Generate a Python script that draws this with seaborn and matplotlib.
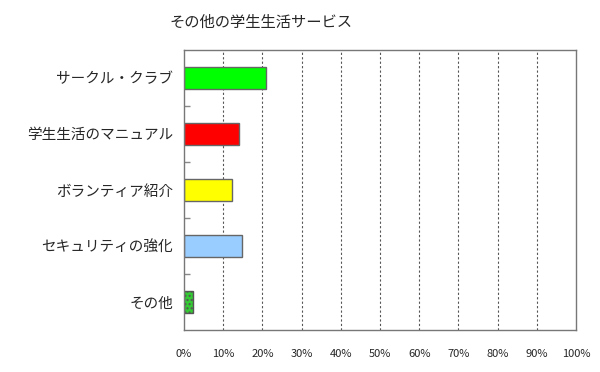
import matplotlib
matplotlib.use("Agg")
import matplotlib.pyplot as plt
import seaborn as sns
import pandas as pd
import numpy as np

# データ
categories = ["サークル・クラブ", "学生生活のマニュアル", "ボランティア紹介", "セキュリティの強化", "その他"]
values = [20.8, 14.1, 12.2, 14.9, 2.4]
bar_colors = ["#00ff00", "#ff0000", "#ffff00", "#99ccff", "#33cc33"]
xticks = [0, 10, 20, 30, 40, 50, 60, 70, 80, 90, 100]
title = "その他の学生生活サービス"

sns.set_theme(style="white")
plt.rcParams["font.family"] = ["Noto Sans CJK JP", "DejaVu Sans"]

df = pd.DataFrame({"cat": categories, "val": values})

fig = plt.figure(figsize=(6, 3.72), dpi=100)
ax = fig.add_axes([0.3067, 0.1129, 0.6533, 0.7527])

sns.barplot(data=df, x="val", y="cat", hue="cat", palette=bar_colors, saturation=1,
            width=0.38, edgecolor="#666666", linewidth=1, legend=False, ax=ax)
# その他 は網掛け
ax.patches[-1].set_hatch("....")
ax.patches[-1].set_edgecolor("#555555")

ax.set_xlim(0, 100)
ax.set_ylim(4.5, -0.5)
ax.set_xticks(xticks)
ax.set_xticklabels([f"{t}%" for t in xticks], fontsize=8)
ax.tick_params(axis="x", length=0, pad=14)
ax.tick_params(axis="y", length=0, pad=8, labelsize=10.5)
ax.set_yticks(np.arange(0.5, 4.5), minor=True)
ax.tick_params(axis="y", which="minor", direction="in", length=4, color="#888888", left=True)
ax.set_xlabel("")
ax.set_ylabel("")

for t in xticks[1:-1]:
    ax.axvline(t, color="#555555", linestyle=(0, (2, 2)), linewidth=0.8, zorder=0)

for s in ax.spines.values():
    s.set_color("#777777")
    s.set_linewidth(1)

fig.text(261 / 600, 1 - 22 / 372, title, ha="center", va="center", fontsize=11)

fig.savefig("out.png", dpi=100)
